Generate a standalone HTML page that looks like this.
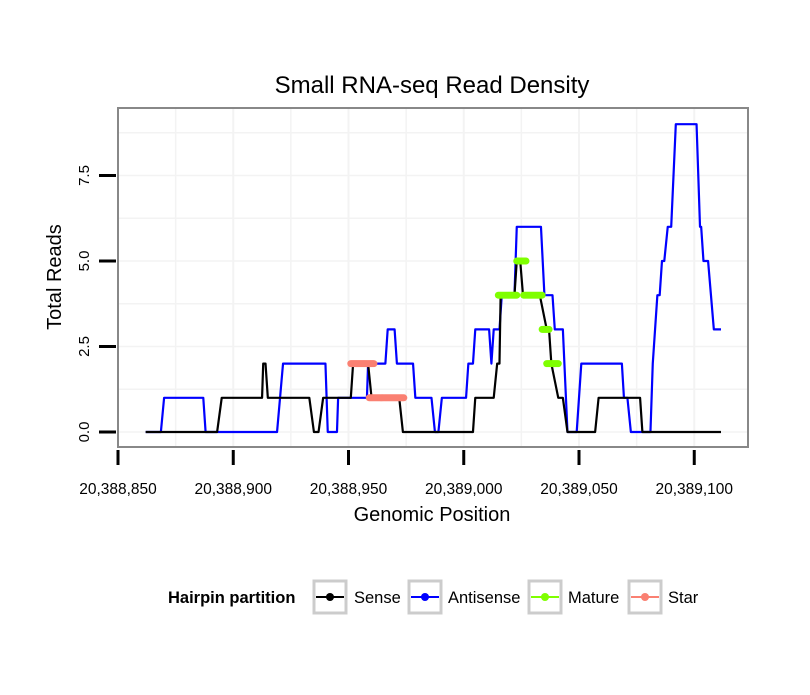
<!DOCTYPE html>
<html><head><meta charset="utf-8"><style>
body{margin:0;background:#fff}
svg text{font-family:"Liberation Sans",sans-serif}
</style></head><body>
<svg id="chart" width="810" height="690">
<text x="432" y="93" text-anchor="middle" font-size="24">Small RNA-seq Read Density</text>
<g id="grid"></g>
<rect x="118" y="108" width="630" height="339" fill="none" stroke="#888" stroke-width="2"/>
<g id="series"></g>
<g id="axes"></g>
<text x="432" y="521" text-anchor="middle" font-size="20">Genomic Position</text>
<text transform="translate(61,277) rotate(-90)" text-anchor="middle" font-size="20">Total Reads</text>
<g>
<text x="168" y="603" font-size="16.5" font-weight="bold">Hairpin partition</text>
<g><rect x="314" y="581" width="32" height="32" fill="#fff" stroke="#ccc" stroke-width="3"/><line x1="316" y1="597" x2="344" y2="597" stroke="#000" stroke-width="2"/><circle cx="330" cy="597" r="4" fill="#000"/><text x="354" y="603" font-size="16.5">Sense</text></g>
<g><rect x="409" y="581" width="32" height="32" fill="#fff" stroke="#ccc" stroke-width="3"/><line x1="411" y1="597" x2="439" y2="597" stroke="#00f" stroke-width="2"/><circle cx="425" cy="597" r="4" fill="#00f"/><text x="448" y="603" font-size="16.5">Antisense</text></g>
<g><rect x="529" y="581" width="32" height="32" fill="#fff" stroke="#ccc" stroke-width="3"/><line x1="531" y1="597" x2="559" y2="597" stroke="#7fff00" stroke-width="2"/><circle cx="545" cy="597" r="4" fill="#7fff00"/><text x="568" y="603" font-size="16.5">Mature</text></g>
<g><rect x="629" y="581" width="32" height="32" fill="#fff" stroke="#ccc" stroke-width="3"/><line x1="631" y1="597" x2="659" y2="597" stroke="#fa8072" stroke-width="2"/><circle cx="645" cy="597" r="4" fill="#fa8072"/><text x="668" y="603" font-size="16.5">Star</text></g>
</g>
</svg>
<script>
const xTicks=[20388850,20388900,20388950,20389000,20389050,20389100];
const xTickLabels=["20,388,850","20,388,900","20,388,950","20,389,000","20,389,050","20,389,100"];
const yTicks=[0,2.5,5,7.5];
const yTickLabels=["0.0","2.5","5.0","7.5"];
const senseX=[20388862,20388893,20388895,20388912.5,20388913,20388914,20388915,20388933,20388935,20388937,20388939,20388951,20388952,20388958.5,20388960,20388972,20388973.6,20389004,20389005,20389013,20389014.5,20389015.5,20389016,20389022,20389023,20389024.5,20389025.7,20389033,20389036,20389037,20389038,20389041,20389043,20389045,20389057,20389058.5,20389076.5,20389077.5,20389111.6];
const senseY=[0,0,1,1,2,2,1,1,0,0,1,1,2,2,1,1,0,0,1,1,2,2,4,4,5,5,4,4,3,3,2,1,1,0,0,1,1,0,0];
const antiX=[20388862,20388868.6,20388870,20388887,20388888,20388919,20388921.6,20388940,20388941,20388945,20388945.5,20388958,20388958.5,20388966,20388967,20388970,20388971,20388978,20388979,20388986,20388987.5,20388989,20388990.5,20389001,20389002,20389004,20389005,20389011,20389012,20389013,20389015.5,20389016.5,20389022,20389023,20389033.5,20389035,20389038.5,20389039.5,20389043,20389045,20389049,20389051,20389068.6,20389069.5,20389071,20389072.5,20389081,20389082,20389084,20389085,20389086,20389087,20389088.5,20389090,20389092,20389101,20389102.5,20389103,20389104,20389106,20389108.5,20389111.6];
const antiY=[0,0,1,1,0,0,2,2,0,0,1,1,2,2,3,3,2,2,1,1,0,0,1,1,2,2,3,3,2,3,3,4,4,6,6,4,4,3,3,0,0,2,2,1,1,0,0,2,4,4,5,5,6,6,9,9,6,6,5,5,3,3];
const matureX=[[20389015,20389023],[20389023,20389027],[20389026,20389034],[20389034,20389037],[20389036,20389041]];
const matureY=[4,5,4,3,2];
const starX=[[20388951,20388961],[20388959,20388974]];
const starY=[2,1];
const NS="http://www.w3.org/2000/svg";
const sx=v=>118+(v-20388850)*2.305;
const sy=v=>432-v*34.2;
const grid=document.getElementById('grid'),axes=document.getElementById('axes'),ser=document.getElementById('series');
function mk(tag,attrs,parent){const e=document.createElementNS(NS,tag);for(const k in attrs)e.setAttribute(k,attrs[k]);parent.appendChild(e);return e;}
for(let i=0;i<xTicks.length;i++){
  for(const v of [xTicks[i],xTicks[i]+25]){
    const x=sx(v); if(x<119||x>747) continue;
    const g=mk('line',{x1:x,x2:x,y1:109,y2:446,stroke:'#f3f3f3','stroke-width':v===xTicks[i]?2:1.5},grid);
    
    
  }
}
for(let v=0;v<=10;v+=1.25){
  const y=sy(v); if(y<109||y>446) continue;
  const g=mk('line',{x1:119,x2:747,y1:y,y2:y,stroke:'#f3f3f3','stroke-width':1.5},grid);
  
  
}
xTicks.forEach((v,i)=>{
  const x=sx(v);
  const t=mk('line',{x1:x,x2:x,y1:450,y2:465,stroke:'#000','stroke-width':3},axes);
  
  
  const l=mk('text',{x:x,y:494,'text-anchor':'middle','font-size':15.5},axes);
  l.textContent=xTickLabels[i];
  
  
});
yTicks.forEach((v,i)=>{
  const y=sy(v);
  const t=mk('line',{x1:99,x2:116,y1:y,y2:y,stroke:'#000','stroke-width':3},axes);
  
  
  const l=mk('text',{transform:`translate(89,${y}) rotate(-90)`,'text-anchor':'middle','font-size':15},axes);
  l.textContent=yTickLabels[i];
  
  
});
function line(xs,ys,col,name){
  const p=mk('polyline',{points:xs.map((x,i)=>sx(x)+','+sy(ys[i])).join(' '),fill:'none',stroke:col,'stroke-width':2.2,'stroke-linejoin':'round'},ser);
  
  
}
line(antiX,antiY,'#0000ff','antisense-line');
line(senseX,senseY,'#000','sense-line');
function pts(ranges,ys,col,name){
  ranges.forEach((r,i)=>{
    for(let p=r[0];p<=r[1];p+=0.5){
      const c=mk('circle',{cx:sx(p),cy:sy(ys[i]),r:3.5,fill:col},ser);
      
      
    }
  });
}
pts(matureX,matureY,'#7fff00','mature-point');
pts(starX,starY,'#fa8072','star-point');
</script>
</body></html>
